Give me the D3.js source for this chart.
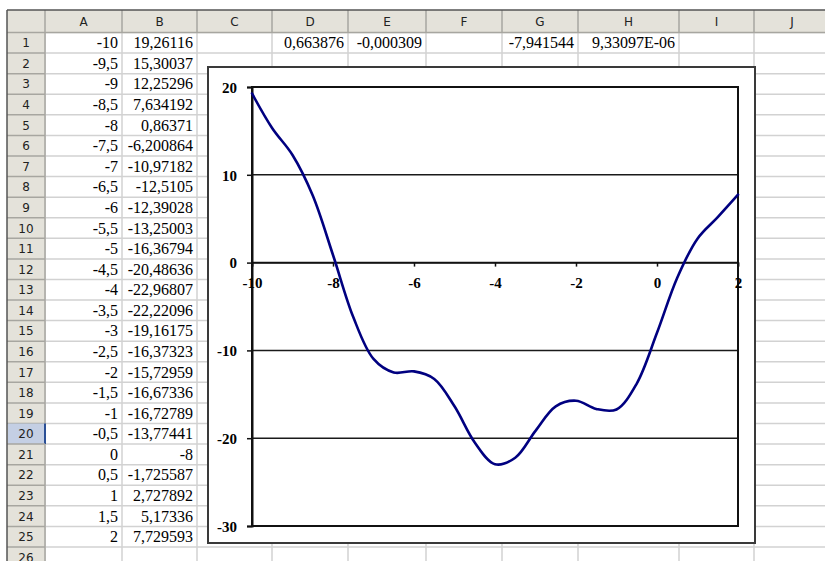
<!DOCTYPE html>
<html><head><meta charset="utf-8">
<script src="https://cdn.jsdelivr.net/npm/d3@7"></script>
<style>html,body{margin:0;padding:0;background:#fff;}svg{display:block;}</style>
</head><body><svg id="c" width="825" height="561"></svg>
<script>
// ---- data ----
const xValues = [-10,-9.5,-9,-8.5,-8,-7.5,-7,-6.5,-6,-5.5,-5,-4.5,-4,-3.5,-3,-2.5,-2,-1.5,-1,-0.5,0,0.5,1,1.5,2];
const yValues = [19.26116,15.30037,12.25296,7.634192,0.86371,-6.200864,-10.97182,-12.5105,-12.39028,-13.25003,-16.36794,-20.48636,-22.96807,-22.22096,-19.16175,-16.37323,-15.72959,-16.67336,-16.72789,-13.77441,-8,-1.725587,2.727892,5.17336,7.729593];
const row1Extra = [{col:"D",text:"0,663876"},{col:"E",text:"-0,000309"},{col:"G",text:"-7,941544"},{col:"H",text:"9,33097E-06"}];
const columnLetters = ["A","B","C","D","E","F","G","H","I","J"];
const xTicks = [-10,-8,-6,-4,-2,0,2];
const yTicks = [20,10,0,-10,-20,-30];

// ---- layout ----
const W = 825, H = 561;
const svg = d3.select("#c");
const gridLeft = 7, gridTop = 10, headerBottom = 32.5, rowH = 20.58;
const colEdges = [45,122,197,272,348,426,502,578,679,754,830];
const nRows = 26;
const headerFill = "#e4e2da", headerLine = "#a7a6a0", cellLine = "#d2d2d2";
const fmt = v => String(v).replace(".", ",");
const rowTop = i => headerBottom + (i-1)*rowH;

// cell gridlines
const g = svg.append("g");
for (let i = 1; i <= nRows + 1; i++) {
  const yy = rowTop(i);
  g.append("line").attr("x1", colEdges[0]).attr("x2", W).attr("y1", yy).attr("y2", yy)
    .attr("stroke", cellLine).attr("stroke-width", 1.5);
}
colEdges.forEach(xx => g.append("line").attr("x1", xx).attr("x2", xx).attr("y1", headerBottom).attr("y2", H)
  .attr("stroke", cellLine).attr("stroke-width", 1.5));

// column header
g.append("rect").attr("x", gridLeft).attr("y", gridTop).attr("width", W).attr("height", headerBottom - gridTop).attr("fill", headerFill);
g.append("rect").attr("x", gridLeft).attr("y", gridTop).attr("width", colEdges[0]-gridLeft).attr("height", H).attr("fill", headerFill);
columnLetters.forEach((c, i) => {
  const x0 = colEdges[i], x1 = colEdges[i+1];
  g.append("line").attr("x1", x1).attr("x2", x1).attr("y1", gridTop).attr("y2", headerBottom).attr("stroke", headerLine).attr("stroke-width", 1.5);
  g.append("text").attr("x", (x0+x1)/2).attr("y", (gridTop+headerBottom)/2 + 4.5)
    .attr("text-anchor", "middle").attr("font-family", "DejaVu Sans, sans-serif").attr("font-size", 12).attr("fill", "#222").text(c);
});
g.append("line").attr("x1", gridLeft).attr("x2", W).attr("y1", headerBottom).attr("y2", headerBottom).attr("stroke", headerLine).attr("stroke-width", 1.5);
g.append("line").attr("x1", colEdges[0]).attr("x2", colEdges[0]).attr("y1", gridTop).attr("y2", H).attr("stroke", headerLine).attr("stroke-width", 1.5);

// row headers
for (let i = 1; i <= nRows; i++) {
  const y0 = rowTop(i), y1 = y0 + rowH;
  if (i === 20) {
    g.append("rect").attr("x", gridLeft+1).attr("y", y0).attr("width", colEdges[0]-gridLeft-1).attr("height", rowH).attr("fill", "#c4cfe4");
    g.append("line").attr("x1", colEdges[0]).attr("x2", colEdges[0]).attr("y1", y0).attr("y2", y1).attr("stroke", "#2a4f96").attr("stroke-width", 2);
  }
  g.append("line").attr("x1", gridLeft).attr("x2", colEdges[0]).attr("y1", y1).attr("y2", y1).attr("stroke", headerLine).attr("stroke-width", 1.5);
  g.append("text").attr("x", (gridLeft + colEdges[0])/2).attr("y", y0 + rowH/2 + 4.5)
    .attr("text-anchor", "middle").attr("font-family", "DejaVu Sans, sans-serif").attr("font-size", 12).attr("fill", "#222").text(i);
}
// outer dark border
g.append("line").attr("x1", gridLeft).attr("x2", W).attr("y1", gridTop).attr("y2", gridTop).attr("stroke", "#555").attr("stroke-width", 1.5);
g.append("line").attr("x1", gridLeft).attr("x2", gridLeft).attr("y1", gridTop).attr("y2", H).attr("stroke", "#555").attr("stroke-width", 1.5);

// cell values
const cellText = (colIdx, row, txt) => g.append("text")
  .attr("x", colEdges[colIdx+1] - 4).attr("y", rowTop(row) + rowH/2 + 5.5)
  .attr("text-anchor", "end").attr("font-family", "Liberation Serif, Times New Roman, serif")
  .attr("font-size", 16).attr("fill", "#000").text(txt);
xValues.forEach((v, i) => { cellText(0, i+1, fmt(v)); cellText(1, i+1, fmt(yValues[i])); });
row1Extra.forEach(d => cellText(columnLetters.indexOf(d.col), 1, d.text));

// ---- chart object ----
const chart = svg.append("g");
chart.append("rect").attr("x", 208).attr("y", 67).attr("width", 547).attr("height", 476)
  .attr("fill", "#fff").attr("stroke", "#3a3a3a").attr("stroke-width", 2);

const pl = 252, pr = 738, pt = 87, pb = 526;
const x = d3.scaleLinear().domain([-10, 2]).range([pl, pr]);
const y = d3.scaleLinear().domain([-30, 20]).range([pb, pt]);

// gridlines
chart.append("g").selectAll("line").data(yTicks).join("line")
  .attr("x1", pl).attr("x2", pr).attr("y1", d => y(d)).attr("y2", d => y(d))
  .attr("stroke", "#1a1a1a").attr("stroke-width", 1.5);
// plot border
chart.append("rect").attr("x", pl).attr("y", pt).attr("width", pr-pl).attr("height", pb-pt)
  .attr("fill", "none").attr("stroke", "#111").attr("stroke-width", 2);

const axisFont = sel => sel.selectAll("text").attr("font-family", "Liberation Serif, Times New Roman, serif")
  .attr("font-weight", "bold").attr("font-size", 15).attr("fill", "#000");
const plain = d => String(d);

// y axis
const yAxis = chart.append("g").attr("transform", `translate(${pl},0)`)
  .call(d3.axisLeft(y).tickValues(yTicks).tickSize(5).tickPadding(10).tickFormat(plain));
yAxis.select(".domain").attr("stroke", "#111").attr("stroke-width", 2);
yAxis.selectAll(".tick line").attr("stroke", "#111").attr("stroke-width", 1.5);
axisFont(yAxis);
yAxis.selectAll("text").attr("dy", "0.35em");

// x axis at y=0
const xAxis = chart.append("g").attr("transform", `translate(0,${y(0)})`)
  .call(d3.axisBottom(x).tickValues(xTicks).tickSize(4).tickPadding(11).tickFormat(plain));
xAxis.select(".domain").attr("stroke", "#111").attr("stroke-width", 1.5);
xAxis.selectAll(".tick line").attr("stroke", "#111").attr("stroke-width", 1.5);
axisFont(xAxis);

// series line
const pts = xValues.map((v, i) => [v, yValues[i]]);
chart.append("path").datum(pts)
  .attr("d", d3.line().x(d => x(d[0])).y(d => y(d[1])).curve(d3.curveCatmullRom.alpha(0.5)))
  .attr("fill", "none").attr("stroke", "#000080").attr("stroke-width", 2.6)
  .attr("stroke-linejoin", "round").attr("stroke-linecap", "round");
</script></body></html>
